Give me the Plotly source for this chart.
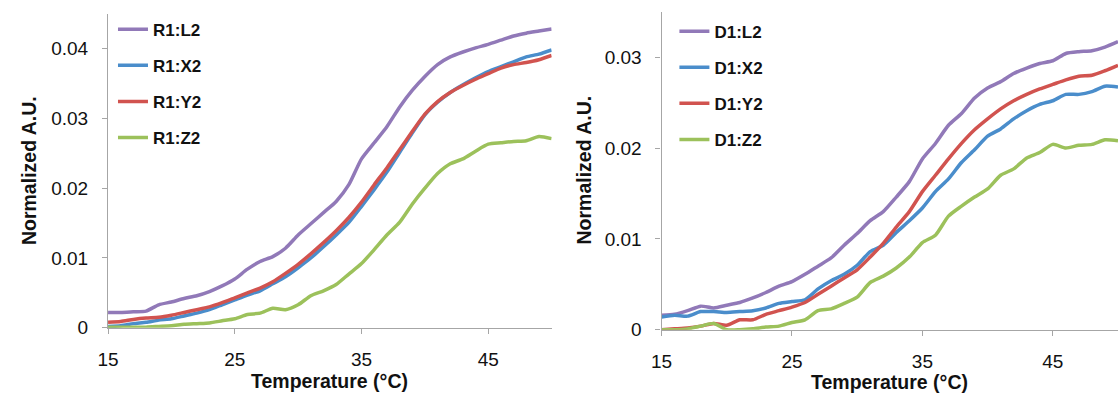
import plotly.graph_objects as go

temps = list(range(15, 51))

# Left panel (R1)
r1_L2 = [0.0022, 0.0022, 0.0023, 0.0024, 0.0033, 0.0037, 0.0042, 0.0046, 0.0052, 0.0060,
         0.0070, 0.0084, 0.0095, 0.0102, 0.0114, 0.0133, 0.0149, 0.0165, 0.0181, 0.0205,
         0.0242, 0.0265, 0.0288, 0.0316, 0.0340, 0.0360, 0.0377, 0.0388, 0.0395, 0.0401,
         0.0406, 0.0412, 0.0418, 0.0422, 0.0425, 0.0428]
r1_X2 = [0.0002, 0.0003, 0.0006, 0.0008, 0.0011, 0.0013, 0.0017, 0.0021, 0.0026, 0.0033,
         0.0040, 0.0047, 0.0053, 0.0063, 0.0073, 0.0086, 0.0100, 0.0116, 0.0133, 0.0151,
         0.0174, 0.0198, 0.0223, 0.0251, 0.0279, 0.0305, 0.0323, 0.0337, 0.0348, 0.0358,
         0.0367, 0.0374, 0.0381, 0.0388, 0.0392, 0.0398]
r1_Y2 = [0.0008, 0.0009, 0.0012, 0.0014, 0.0015, 0.0018, 0.0022, 0.0026, 0.0030, 0.0036,
         0.0043, 0.0050, 0.0057, 0.0066, 0.0078, 0.0091, 0.0106, 0.0122, 0.0139, 0.0158,
         0.0180, 0.0205, 0.0229, 0.0255, 0.0281, 0.0306, 0.0324, 0.0337, 0.0347, 0.0356,
         0.0364, 0.0372, 0.0377, 0.0380, 0.0384, 0.0390]
r1_Z2 = [0.0001, 0.0001, 0.0001, 0.0001, 0.0002, 0.0003, 0.0005, 0.0006, 0.0007, 0.0010,
         0.0013, 0.0019, 0.0021, 0.0028, 0.0026, 0.0033, 0.0046, 0.0053, 0.0062, 0.0077,
         0.0092, 0.0112, 0.0133, 0.0151, 0.0177, 0.0200, 0.0221, 0.0235, 0.0242, 0.0253,
         0.0263, 0.0265, 0.0267, 0.0268, 0.0274, 0.0271]

# Right panel (D1)
d1_L2 = [0.0016, 0.0017, 0.0021, 0.0026, 0.0024, 0.0027, 0.0030, 0.0035, 0.0041, 0.0048,
         0.0053, 0.0061, 0.0070, 0.0079, 0.0093, 0.0106, 0.0120, 0.0130, 0.0146, 0.0163,
         0.0188, 0.0205, 0.0225, 0.0238, 0.0255, 0.0266, 0.0273, 0.0282, 0.0288, 0.0293,
         0.0296, 0.0304, 0.0306, 0.0307, 0.0311, 0.0317]
d1_X2 = [0.0014, 0.0016, 0.0015, 0.0020, 0.0020, 0.0019, 0.0020, 0.0021, 0.0024, 0.0029,
         0.0031, 0.0033, 0.0045, 0.0054, 0.0061, 0.0071, 0.0086, 0.0093, 0.0107, 0.0120,
         0.0134, 0.0152, 0.0166, 0.0184, 0.0198, 0.0213, 0.0221, 0.0232, 0.0241, 0.0248,
         0.0252, 0.0259, 0.0259, 0.0262, 0.0268, 0.0267]
d1_Y2 = [0.0000, 0.0001, 0.0002, 0.0004, 0.0007, 0.0005, 0.0011, 0.0011, 0.0017, 0.0021,
         0.0025, 0.0030, 0.0039, 0.0048, 0.0057, 0.0066, 0.0080, 0.0095, 0.0113, 0.0130,
         0.0152, 0.0170, 0.0188, 0.0205, 0.0220, 0.0232, 0.0243, 0.0252, 0.0259, 0.0265,
         0.0270, 0.0275, 0.0279, 0.0280, 0.0285, 0.0291]
d1_Z2 = [0.0000, 0.0000, 0.0001, 0.0004, 0.0007, 0.0000, 0.0000, 0.0001, 0.0003, 0.0004,
         0.0008, 0.0011, 0.0021, 0.0023, 0.0029, 0.0036, 0.0052, 0.0059, 0.0068, 0.0080,
         0.0096, 0.0104, 0.0125, 0.0136, 0.0146, 0.0155, 0.0170, 0.0177, 0.0189, 0.0195,
         0.0204, 0.0200, 0.0203, 0.0204, 0.0209, 0.0208]

left_names = ["R1:L2", "R1:X2", "R1:Y2", "R1:Z2"]
right_names = ["D1:L2", "D1:X2", "D1:Y2", "D1:Z2"]
colors = ["#9179B8", "#4A8DCB", "#D1534F", "#9CC15B"]

x_ticks = [15, 25, 35, 45]
left_y_ticks = [0, 0.01, 0.02, 0.03, 0.04]
left_y_labels = ["0", "0.01", "0.02", "0.03", "0.04"]
right_y_ticks = [0, 0.01, 0.02, 0.03]
right_y_labels = ["0", "0.01", "0.02", "0.03"]

FONT = "Liberation Sans, Arial, sans-serif"
W, H = 1118, 404

fig = go.Figure()
for name, ys, c in zip(left_names, [r1_L2, r1_X2, r1_Y2, r1_Z2], colors):
    fig.add_trace(go.Scatter(x=temps, y=ys, name=name, mode="lines",
                             line=dict(color=c, width=3.5, shape="spline", smoothing=0.6),
                             xaxis="x", yaxis="y", legend="legend", legendgroup=name))
for name, ys, c in zip(right_names, [d1_L2, d1_X2, d1_Y2, d1_Z2], colors):
    fig.add_trace(go.Scatter(x=temps, y=ys, name=name, mode="lines",
                             line=dict(color=c, width=3.5, shape="spline", smoothing=0.6),
                             xaxis="x2", yaxis="y2", legend="legend2", legendgroup=name))

axis_common = dict(showgrid=False, zeroline=False, showline=True, linecolor="#A6A6A6",
                   linewidth=1.2, ticks="outside", ticklen=5, tickcolor="#A6A6A6",
                   tickfont=dict(family=FONT, size=19, color="#111111"))

lx0, lx1 = 98, 546
rx0, rx1 = 657, 1118
ly0, ly1 = 337, 14
ry0, ry1 = 339, 12

legend_font = dict(family=FONT, size=17, color="#111111", weight="bold")

fig.update_layout(
    width=W, height=H,
    margin=dict(l=0, r=0, t=0, b=0),
    paper_bgcolor="white", plot_bgcolor="white",
    xaxis=dict(domain=[lx0 / W, lx1 / W], range=[15, 50], tickvals=x_ticks,
               anchor="y", ticklabelstandoff=9, **axis_common),
    yaxis=dict(domain=[1 - ly0 / H, 1 - ly1 / H], range=[0, 0.045],
               tickvals=left_y_ticks, ticktext=left_y_labels, anchor="x",
               ticklabelstandoff=10, **axis_common),
    xaxis2=dict(domain=[rx0 / W, rx1 / W], range=[15, 50], tickvals=x_ticks,
                anchor="y2", ticklabelstandoff=9, **axis_common),
    yaxis2=dict(domain=[1 - ry0 / H, 1 - ry1 / H], range=[0, 0.035],
                tickvals=right_y_ticks, ticktext=right_y_labels, anchor="x2",
                ticklabelstandoff=10, **axis_common),
    legend=dict(x=(lx0 + 5) / W, y=1 - 12 / H, xanchor="left", yanchor="top",
                bgcolor="rgba(0,0,0,0)", tracegroupgap=11, font=legend_font),
    legend2=dict(x=(rx0 + 13) / W, y=1 - 14 / H, xanchor="left", yanchor="top",
                 bgcolor="rgba(0,0,0,0)", tracegroupgap=11, font=legend_font),
    showlegend=True,
)

title_font = dict(family=FONT, size=19.5, color="#111111", weight="bold")
fig.add_annotation(text="Temperature (°C)", x=(lx0 + lx1) / 2 / W, y=1 - 392 / H,
                   xref="paper", yref="paper", showarrow=False, font=title_font,
                   xanchor="center", yanchor="middle")
fig.add_annotation(text="Temperature (°C)", x=(rx0 + rx1) / 2 / W, y=1 - 393 / H,
                   xref="paper", yref="paper", showarrow=False, font=title_font,
                   xanchor="center", yanchor="middle")
fig.add_annotation(text="Normalized A.U.", x=18 / W, y=1 - 175 / H, textangle=-90,
                   xref="paper", yref="paper", showarrow=False, font=title_font,
                   xanchor="center", yanchor="middle")
fig.add_annotation(text="Normalized A.U.", x=579 / W, y=1 - 175 / H, textangle=-90,
                   xref="paper", yref="paper", showarrow=False, font=title_font,
                   xanchor="center", yanchor="middle")

fig.write_html("out.html", config={"displayModeBar": False},
               post_script="document.body.style.margin='0';")
